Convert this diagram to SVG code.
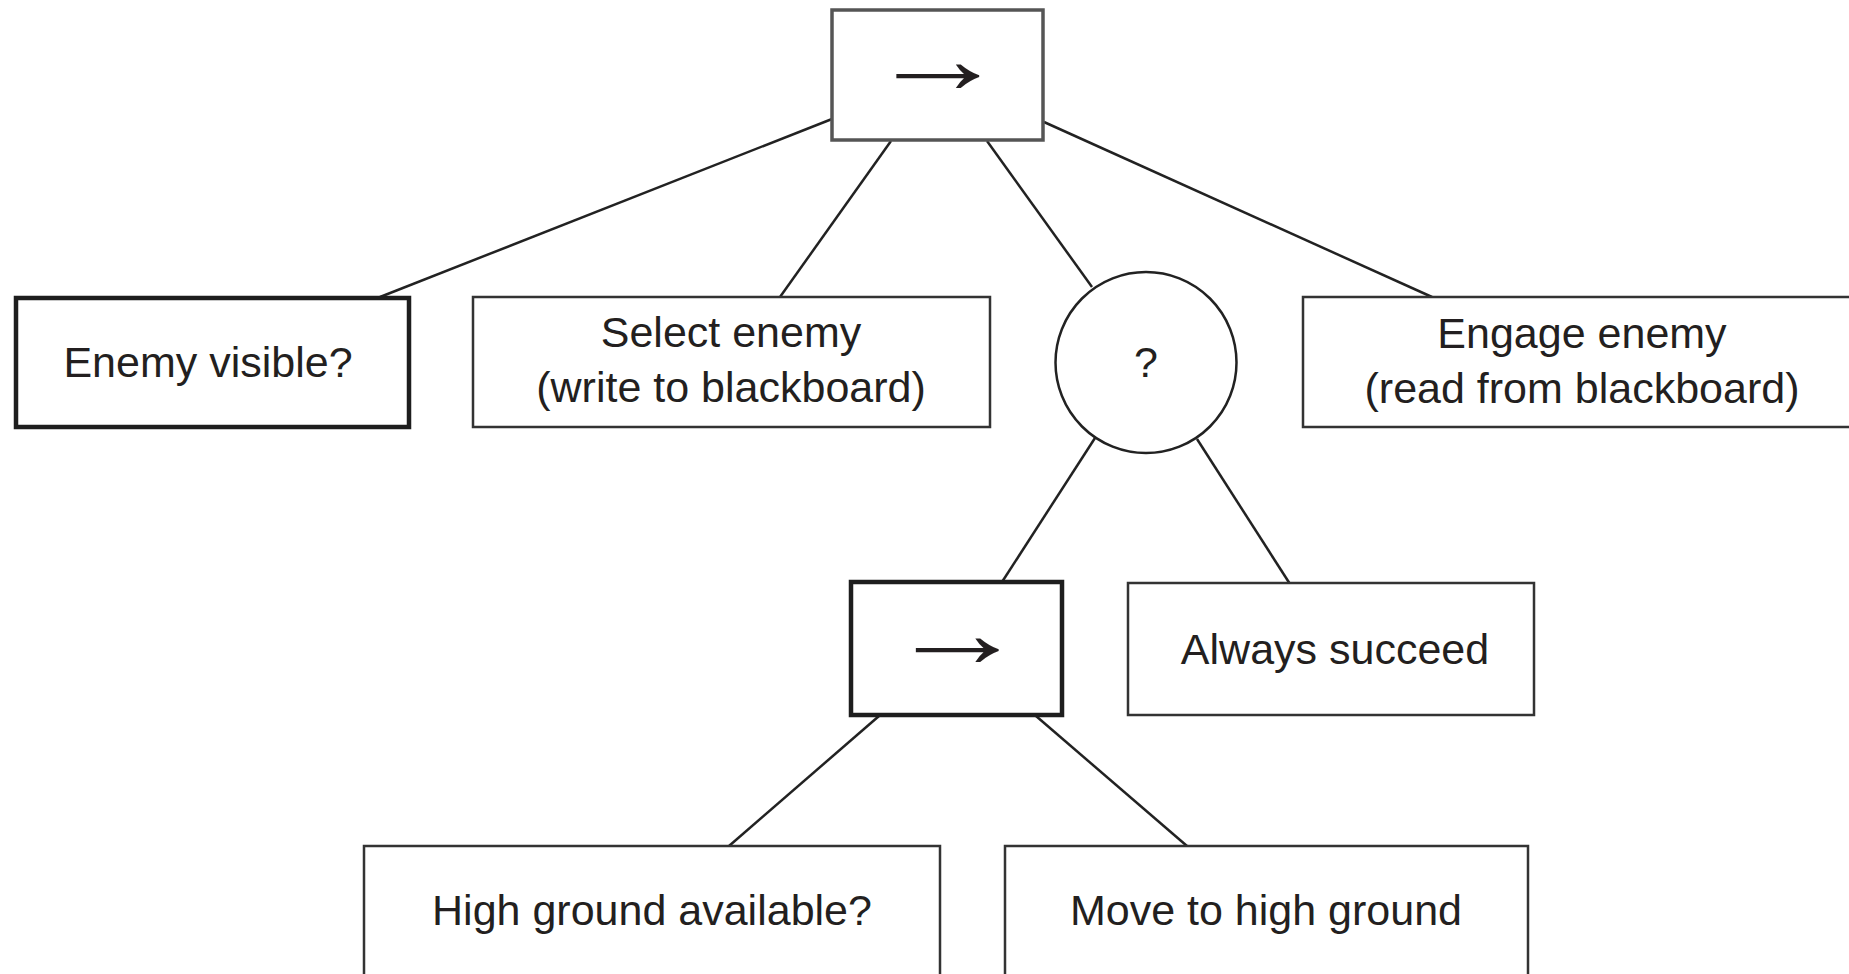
<svg xmlns="http://www.w3.org/2000/svg" width="1849" height="974" viewBox="0 0 1849 974">
<style>
.box{fill:#fff;stroke:#333;stroke-width:2.5}
.thick{fill:#fff;stroke:#1e1e1e;stroke-width:4.5}
.top{fill:#fff;stroke:#555;stroke-width:3.5}
.lbl{font-family:"Liberation Sans",Arial,sans-serif;font-size:43px;fill:#231f20;text-anchor:middle}
.arr{font-family:"Liberation Serif","DejaVu Serif",serif;font-size:100px;fill:#231f20;text-anchor:middle}
.conn line{stroke:#222;stroke-width:2.5}
</style>
<rect width="1849" height="974" fill="#fff"/>
<g id="connectors" class="conn">
<line x1="832" y1="119" x2="380" y2="297"/>
<line x1="891" y1="141" x2="780" y2="297"/>
<line x1="987" y1="141" x2="1092" y2="287"/>
<line x1="1044" y1="122" x2="1432" y2="297"/>
<line x1="1095" y1="438" x2="1002" y2="582"/>
<line x1="1197" y1="439" x2="1290" y2="584"/>
<line x1="879" y1="716" x2="729" y2="846"/>
<line x1="1036" y1="716" x2="1187" y2="846"/>
</g>
<g id="root-sequence">
<rect class="top" x="832" y="10" width="211" height="130"/>
<text class="arr" transform="translate(937.5,93) scale(1.4,1)">→</text>
</g>
<g id="enemy-visible">
<rect class="thick" x="16" y="298" width="393" height="129"/>
<text class="lbl" x="208" y="377">Enemy visible?</text>
</g>
<g id="select-enemy">
<rect class="box" x="473" y="297" width="517" height="130"/>
<text class="lbl" x="731" y="347">Select enemy</text>
<text class="lbl" x="731" y="402">(write to blackboard)</text>
</g>
<g id="selector">
<circle cx="1146" cy="362.5" r="90.5" fill="#fff" stroke="#222" stroke-width="2.5"/>
<text class="lbl" x="1146" y="377">?</text>
</g>
<g id="engage-enemy">
<rect class="box" x="1303" y="297" width="560" height="130"/>
<text class="lbl" x="1582" y="348">Engage enemy</text>
<text class="lbl" x="1582" y="403">(read from blackboard)</text>
</g>
<g id="sub-sequence">
<rect class="thick" x="851" y="582" width="211" height="133"/>
<text class="arr" transform="translate(957,667) scale(1.4,1)">→</text>
</g>
<g id="always-succeed">
<rect class="box" x="1128" y="583" width="406" height="132"/>
<text class="lbl" x="1335" y="664">Always succeed</text>
</g>
<g id="high-ground-available">
<rect class="box" x="364" y="846" width="576" height="140"/>
<text class="lbl" x="652" y="925">High ground available?</text>
</g>
<g id="move-to-high-ground">
<rect class="box" x="1005" y="846" width="523" height="140"/>
<text class="lbl" x="1266" y="925">Move to high ground</text>
</g>
</svg>
